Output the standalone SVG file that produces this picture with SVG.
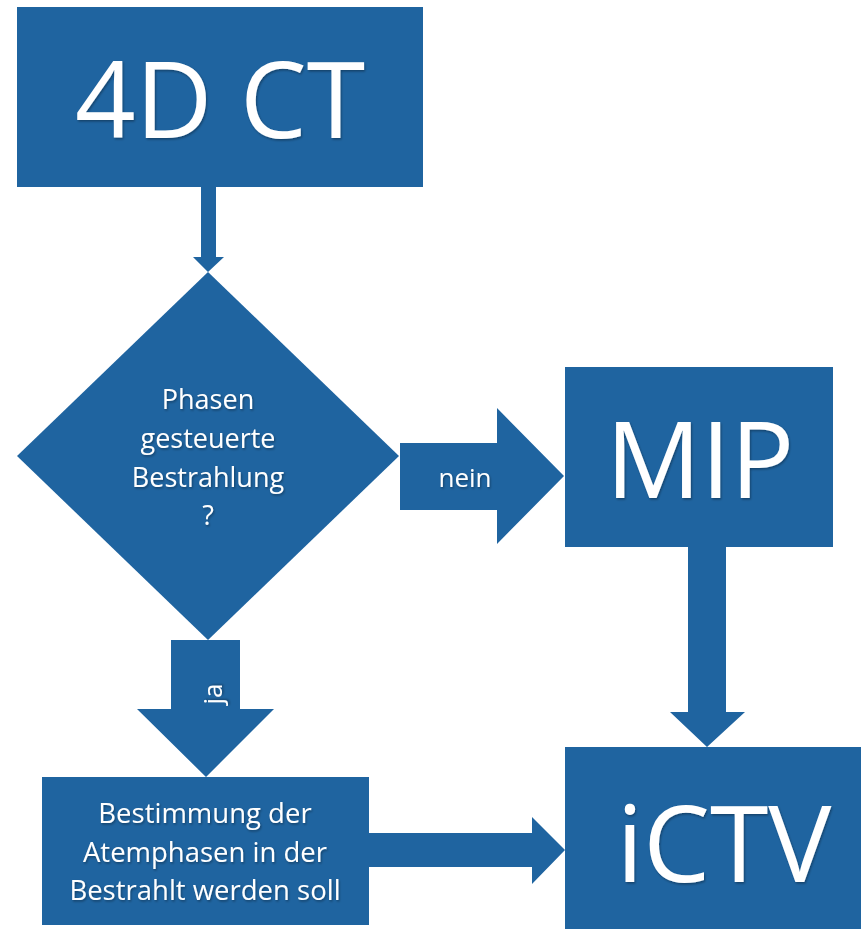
<svg xmlns="http://www.w3.org/2000/svg" width="861" height="929" viewBox="0 0 861 929">
<defs>
<style>
.shape{fill:#1f64a0;}
.t{fill:#ffffff;font-family:"Open Sans","Liberation Sans",sans-serif;text-anchor:middle;filter:url(#sh);}
.big{font-size:106px;}
.mid{font-size:27px;}
.lbl{font-size:26px;}
.box{font-size:27.5px;}
</style>
<filter id="sh" x="-10%" y="-10%" width="130%" height="130%">
<feDropShadow dx="1" dy="1.5" stdDeviation="1" flood-color="#000000" flood-opacity="0.35"/>
</filter>
</defs>
<rect width="861" height="929" fill="#ffffff"/>
<g id="connectors">
<polygon class="shape" points="201,187 216,187 216,257 224,257 208,272 193,257 201,257"/>
<g id="edge-nein">
<polygon class="shape" points="400,443 497,443 497,408 564,476 497,544 497,510 400,510"/>
<text class="t lbl" x="465" y="487">nein</text>
</g>
<g id="edge-ja">
<polygon class="shape" points="171,640 240,640 240,709 274,709 206,777 137,709 171,709"/>
<text class="t lbl" transform="translate(222,694) rotate(-90)" x="0" y="0">ja</text>
</g>
<polygon class="shape" points="688,547 726,547 726,712 745,712 707,747 670,712 688,712"/>
<polygon class="shape" points="369,833 532,833 532,817 565,850 532,884 532,867 369,867"/>
</g>
<g id="node-4dct">
<rect class="shape" x="17" y="7" width="406" height="180"/>
<text class="t big" x="220" y="138">4D CT</text>
</g>
<g id="node-decision">
<polygon class="shape" points="208,272 399,456 208,640 17,456"/>
<text class="t mid" x="208" y="409">Phasen</text>
<text class="t mid" x="208" y="448">gesteuerte</text>
<text class="t mid" x="208" y="487">Bestrahlung</text>
<text class="t mid" x="208" y="525">?</text>
</g>
<g id="node-mip">
<rect class="shape" x="565" y="367" width="268" height="180"/>
<text class="t big" x="700" y="498">MIP</text>
</g>
<g id="node-bestimmung">
<rect class="shape" x="42" y="777" width="327" height="148"/>
<text class="t box" x="205" y="823">Bestimmung der</text>
<text class="t box" x="205" y="862">Atemphasen in der</text>
<text class="t box" x="205" y="900">Bestrahlt werden soll</text>
</g>
<g id="node-ictv">
<rect class="shape" x="565" y="747" width="296" height="182"/>
<text class="t big" x="724" y="882">iCTV</text>
</g>
</svg>
